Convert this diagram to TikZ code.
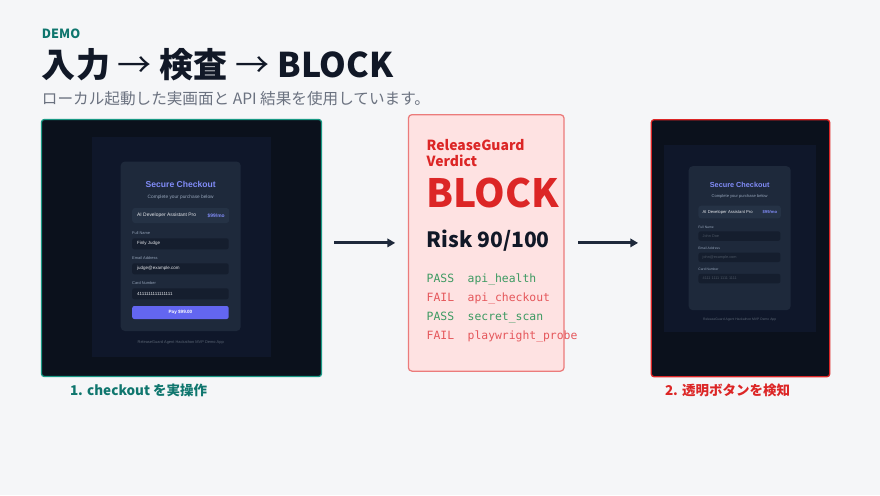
\documentclass[tikz,border=0pt]{standalone}
\usepackage{fontspec}
\setmainfont{Noto Sans CJK JP}
\newfontfamily\appfont{Liberation Sans}
\newfontfamily\checkmono{DejaVu Sans Mono}
\usepackage{xcolor}
\usetikzlibrary{arrows.meta,positioning}
\definecolor{pagebg}{HTML}{F5F6F8}
\definecolor{ink}{HTML}{111827}
\definecolor{demoteal}{HTML}{0F766E}
\definecolor{subgray}{HTML}{6B7280}
\definecolor{shotteal}{HTML}{1A9985}
\definecolor{blockred}{HTML}{DC2626}
\definecolor{verdictbg}{HTML}{FEE2E2}
\definecolor{verdictline}{HTML}{EB7B7B}
\definecolor{passgreen}{HTML}{3D9A62}
\definecolor{failred}{HTML}{E5575B}
\definecolor{arrowink}{HTML}{1E293B}
\definecolor{appouter}{HTML}{0B111C}
\definecolor{appmid}{HTML}{0F172A}
\definecolor{appcard}{HTML}{1E293B}
\definecolor{approw}{HTML}{253245}
\definecolor{appfield}{HTML}{151E2E}
\definecolor{apptitle}{HTML}{818CF8}
\definecolor{appgray}{HTML}{94A3B8}
\definecolor{appvalue}{HTML}{E5E7EB}
\definecolor{appholder}{HTML}{4B5563}
\definecolor{appbtn}{HTML}{6366F1}
\tikzset{
  txt/.style={inner sep=0pt, outer sep=0pt},
  kicker/.style={txt, font=\bfseries\fontsize{9}{10}\selectfont, text=demoteal},
  headline/.style={txt, font=\bfseries\fontsize{24.2}{28}\selectfont, text=ink},
  subline/.style={txt, font=\fontsize{11.1}{13}\selectfont, text=subgray},
  caption/.style={txt, font=\bfseries\fontsize{9.6}{11}\selectfont},
  shotpanel/.style={rectangle, rounded corners=2pt, fill=appouter, line width=0.9pt,
                    inner sep=0pt, outer sep=0pt},
  verdictpanel/.style={rectangle, rounded corners=2.5pt, fill=verdictbg, draw=verdictline,
                       line width=0.9pt, inner sep=0pt, outer sep=0pt},
  verdicthead/.style={txt, font=\bfseries\fontsize{9.9}{11}\selectfont, text=blockred},
  bigblock/.style={txt, font=\bfseries\fontsize{27.7}{30}\selectfont, text=blockred},
  riskline/.style={txt, font=\bfseries\fontsize{15}{17}\selectfont, text=ink},
  checkline/.style={txt, font=\checkmono\fontsize{8.1}{9}\selectfont},
  flow/.style={draw=arrowink, line width=2.1pt, line cap=butt,
               -{Triangle[length=5.5pt,width=6pt]}},
  % screenshot pieces
  appcardbox/.style={fill=appcard, rounded corners=3pt},
  approwbox/.style={fill=approw, rounded corners=2pt},
  appfieldbox/.style={fill=appfield, rounded corners=1.5pt},
  apptitletxt/.style={txt, font=\appfont\bfseries\fontsize{6.1}{7}\selectfont, text=apptitle},
  appnote/.style={txt, font=\appfont\fontsize{3.4}{4}\selectfont, text=appgray},
  appitem/.style={txt, font=\appfont\fontsize{3.5}{4}\selectfont, text=appvalue},
  appprice/.style={txt, font=\appfont\bfseries\fontsize{3.5}{4}\selectfont, text=apptitle},
  applabel/.style={txt, font=\appfont\fontsize{2.8}{3.5}\selectfont, text=appgray},
  appval/.style={txt, font=\appfont\fontsize{3.2}{4}\selectfont, text=appvalue},
  appph/.style={txt, font=\appfont\fontsize{3.2}{4}\selectfont, text=appholder},
  appfoot/.style={txt, font=\appfont\fontsize{2.8}{3.5}\selectfont, text=appholder!80!appgray},
  appbtntxt/.style={txt, font=\appfont\bfseries\fontsize{3.3}{4}\selectfont, text=white},
}
% checkout page, local px coordinates: #1 prefix, #2 name, #3 email, #4 card, #5 value style
\newcommand{\checkoutapp}[5]{%
  \fill[appmid] (0,0) rectangle (179.3,220);
  \fill[appcardbox] (29,24.5) rectangle (149,194);
  \node[apptitletxt] (#1-title) at (89,47) {Secure Checkout};
  \node[appnote] (#1-note) at (89,60) {Complete your purchase below};
  \fill[approwbox] (40.5,71) rectangle (137.5,86);
  \node[appitem, anchor=west] (#1-item) at (45.5,78.5) {AI Developer Assistant Pro};
  \node[appprice, anchor=east] (#1-price) at (133,78.5) {\$99/mo};
  \foreach \lbl/\val [count=\k from 0] in {Full Name/#2, Email Address/#3, Card Number/#4}{
    \node[applabel, anchor=west] (#1-lbl\k) at (40.5,{96+25*\k}) {\lbl};
    \fill[appfieldbox] (40.5,{101.3+25*\k}) rectangle (137,{112.3+25*\k});
    \node[#5, anchor=west] (#1-val\k) at (45.5,{106.8+25*\k}) {\val};
  }
  \node[appfoot] (#1-foot) at (89,205) {ReleaseGuard Agent Hackathon MVP Demo App};
}

\begin{document}
\begin{tikzpicture}[x=0.025cm, y=-0.025cm, line join=round]
\useasboundingbox[fill=pagebg] (0,0) rectangle (880,495);

% ---------------- header ----------------
\node[kicker, anchor=base west] (demo) at (42,38.7) {DEMO};
\node[headline, anchor=base west] (headline) at (42,77)
  {入力 {\mdseries →} 検査 {\mdseries →} BLOCK};
\node[subline, anchor=base west] (subline) at (42,104.5)
  {ローカル起動した実画面と API 結果を使用しています。};

% ---------------- panels ----------------
\node[shotpanel, draw=shotteal, minimum width=7cm, minimum height=6.425cm]
  (lshot) at (181.5,248) {};
\node[verdictpanel, minimum width=3.89cm, minimum height=6.41cm]
  (verdict) at (486.2,242.9) {};
\node[shotpanel, draw=blockred, minimum width=4.46cm, minimum height=6.425cm]
  (rshot) at (740.5,248.2) {};

% left: real checkout run
\begin{scope}[shift={(91.7,137)}]
  \checkoutapp{l}{Finly Judge}{judge@example.com}{4111111111111111}{appval}
  \fill[appbtn, rounded corners=1.5pt] (40.5,169) rectangle (137,182);
  \node[appbtntxt] (l-pay) at (88.75,175.5) {Pay \$99.00};
\end{scope}

% right: invisible button detected
\begin{scope}[shift={(664,145.3)}, scale=0.85, transform shape]
  \checkoutapp{r}{John Doe}{john@example.com}{4111 1111 1111 1111}{appph}
\end{scope}

% verdict card
\node[verdicthead, anchor=base west] (vhead1) at (426.7,150.3) {ReleaseGuard};
\node[verdicthead, anchor=base west] (vhead2) at (426.7,166.3) {Verdict};
\node[bigblock, anchor=base west] (vblock) at (426,207) {BLOCK};
\node[riskline, anchor=base west] (vrisk) at (426.7,247) {Risk 90/100};
\foreach \st/\chk/\col [count=\i from 0] in
  {PASS/api\_health/passgreen, FAIL/api\_checkout/failred,
   PASS/secret\_scan/passgreen, FAIL/playwright\_probe/failred}{
  \node[checkline, text=\col, anchor=base west] (st\i) at (426.7,{282+19*\i}) {\st};
  \node[checkline, text=\col, anchor=base west] (chk\i) at (467.7,{282+19*\i}) {\chk};
}

% ---------------- flow ----------------
\draw[flow, shorten <=9pt, shorten >=9.4pt] (lshot.east |- verdict.west) -- (verdict.west);
\draw[flow, shorten <=10pt, shorten >=9.4pt] (verdict.east) -- (rshot.west |- verdict.east);

% ---------------- captions ----------------
\node[caption, text=demoteal, anchor=base west] (lcap) at (70,395) {1. checkout を実操作};
\node[caption, text=blockred, anchor=base west] (rcap) at (665,395) {2. 透明ボタンを検知};

\end{tikzpicture}
\end{document}
